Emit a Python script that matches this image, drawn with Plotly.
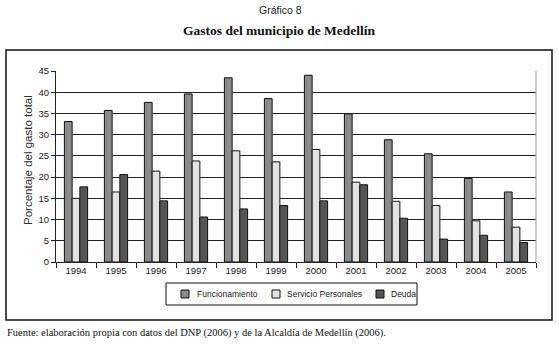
import plotly.graph_objects as go

years = ["1994", "1995", "1996", "1997", "1998", "1999", "2000", "2001", "2002", "2003", "2004", "2005"]
funcionamiento = [33.1, 35.7, 37.6, 39.6, 43.4, 38.5, 44.0, 34.9, 28.8, 25.5, 19.7, 16.5]
servicio_personales = [15.0, 16.5, 21.4, 23.8, 26.2, 23.6, 26.5, 18.8, 14.3, 13.3, 9.7, 8.2]
deuda = [17.7, 20.6, 14.4, 10.6, 12.5, 13.3, 14.4, 18.2, 10.3, 5.4, 6.3, 4.6]
y_ticks = [0, 5, 10, 15, 20, 25, 30, 35, 40, 45]

W, H = 559, 346
L, R, T, B = 56, 536, 71, 262

def px(x):
    return (x - L) / (R - L)

def py(y):
    return (B - y) / (B - T)

sans = "Liberation Sans, Arial, sans-serif"
serif = "Liberation Serif, Times New Roman, serif"
ink = "#222222"

fig = go.Figure()
series = [
    ("Funcionamiento", funcionamiento, "#8a8a8a"),
    ("Servicio Personales", servicio_personales, "#e2e2e2"),
    ("Deuda", deuda, "#555555"),
]
for name, vals, col in series:
    fig.add_trace(go.Bar(
        x=years, y=vals, name=name, showlegend=False,
        marker=dict(color=col, line=dict(color="#111111", width=1)),
    ))

fig.update_layout(
    width=W, height=H,
    margin=dict(l=L, r=W - R, t=T, b=H - B),
    paper_bgcolor="white", plot_bgcolor="white",
    barmode="group", bargap=0.42, bargroupgap=0,
    font=dict(family=sans, size=9, color=ink),
    xaxis=dict(
        type="category", tickson="boundaries", ticks="outside", ticklen=5,
        tickcolor=ink, showline=True, linecolor=ink, linewidth=1,
        showgrid=False, tickfont=dict(family=sans, size=9.5, color=ink),
    ),
    yaxis=dict(
        range=[0, 45], tickvals=y_ticks, ticks="outside", ticklen=4,
        tickcolor=ink, showline=True, linecolor=ink, linewidth=1,
        showgrid=True, gridcolor=ink, gridwidth=1, zeroline=False,
        tickfont=dict(family=sans, size=9.5, color=ink),
    ),
)

# right border of plot area (gray)
fig.add_shape(type="line", xref="paper", yref="paper", x0=1, x1=1, y0=0, y1=1,
              line=dict(color="#999999", width=1))
# outer frame
fig.add_shape(type="rect", xref="paper", yref="paper",
              x0=px(6), x1=px(552), y0=py(320), y1=py(50),
              line=dict(color="#111111", width=1.5), layer="below")

# legend box drawn to match the reference layout
fig.add_shape(type="rect", xref="paper", yref="paper",
              x0=px(166), x1=px(417), y0=py(305), y1=py(283),
              line=dict(color="#111111", width=1), fillcolor="white")
legend_pos = [(181, 195), (272, 285), (376, 389)]
for (name, _, col), (sx, tx) in zip(series, legend_pos):
    fig.add_shape(type="rect", xref="paper", yref="paper",
                  x0=px(sx), x1=px(sx + 8), y0=py(298), y1=py(290),
                  line=dict(color="#111111", width=1), fillcolor=col)
    fig.add_annotation(text=name, xref="paper", yref="paper", x=px(tx), y=py(294),
                       showarrow=False, xanchor="left", yanchor="middle",
                       font=dict(family=sans, size=8.5, color=ink))

fig.add_annotation(text="Porcentaje del gasto total", xref="paper", yref="paper",
                   x=px(28), y=py(160), textangle=-90, showarrow=False,
                   xanchor="center", yanchor="middle",
                   font=dict(family=sans, size=11.5, color="#333333"))
fig.add_annotation(text="Gráfico 8", xref="paper", yref="paper",
                   x=px(280), y=py(10), showarrow=False, xanchor="center", yanchor="middle",
                   font=dict(family=sans, size=10.5, color=ink))
fig.add_annotation(text="<b>Gastos del municipio de Medellín</b>", xref="paper", yref="paper",
                   x=px(279), y=py(30), showarrow=False, xanchor="center", yanchor="middle",
                   font=dict(family=serif, size=13.5, color="#111111"))
fig.add_annotation(text="Fuente: elaboración propia con datos del DNP (2006) y de la Alcaldía de Medellín (2006).",
                   xref="paper", yref="paper", x=px(5), y=py(333), showarrow=False,
                   xanchor="left", yanchor="middle",
                   font=dict(family=serif, size=10.5, color="#111111"))

fig.write_html("out.html")
